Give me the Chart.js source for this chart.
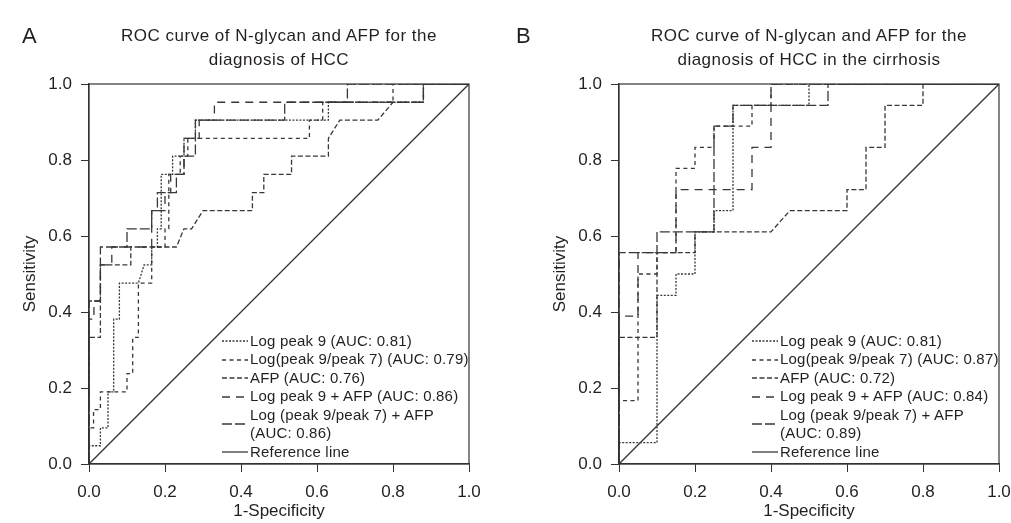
<!DOCTYPE html>
<html lang="en">
<head>
  <meta charset="UTF-8">
  <title>ROC curves of N-glycan and AFP</title>
  <script src="https://cdn.jsdelivr.net/npm/chart.js"></script>
  <style>
    body { margin: 0; background: #fff; font-family: "Liberation Sans", Arial, sans-serif; color: #231f20; }
    #wrap { position: relative; width: 1011px; height: 523px; overflow: hidden; }
    .panel { position: absolute; top: 0; height: 523px; }
    .panel canvas { position: absolute; left: 0; top: 0; }
    .letter { position: absolute; top: 25px; font-size: 22px; line-height: 22px; }
    .title { position: absolute; left: 89px; top: 23.5px; width: 380px; text-align: center; font-size: 17px; line-height: 24px; letter-spacing: 0.5px; white-space: nowrap; }
    .legend { position: absolute; left: 222px; top: 331.75px; font-size: 15px; line-height: 18.5px; letter-spacing: 0.2px; white-space: nowrap; }
    .legend .row { display: flex; align-items: center; }
    .legend svg { flex: none; margin-right: 2px; }
  </style>
</head>
<body>
<div id="wrap">
  <div class="panel" id="panelA" style="left:0; width:505px;">
    <canvas id="chartA" width="505" height="523"></canvas>
    <div class="title">ROC curve of N-glycan and AFP for the<br>diagnosis of HCC</div>
    <div class="legend" id="legendA"></div>
  </div>
  <div class="panel" id="panelB" style="left:530px; width:481px;">
    <canvas id="chartB" width="481" height="523"></canvas>
    <div class="title">ROC curve of N-glycan and AFP for the<br>diagnosis of HCC in the cirrhosis</div>
    <div class="legend" id="legendB"></div>
  </div>
  <div class="letter" style="left:22px;">A</div>
  <div class="letter" style="left:516px;">B</div>
</div>

<script>
  // axis ticks (both axes, both panels)
  const tickValues = [0, 0.2, 0.4, 0.6, 0.8, 1.0];

  // panel A - all HCC, points are [1-specificity, sensitivity]
  const aLogPeak9 = [[0,0],[0,0.048],[0.03,0.048],[0.03,0.095],[0.05,0.095],[0.05,0.19],[0.065,0.19],[0.065,0.381],[0.08,0.381],[0.08,0.476],[0.13,0.476],[0.145,0.524],[0.165,0.524],[0.165,0.571],[0.18,0.571],[0.18,0.619],[0.19,0.619],[0.19,0.762],[0.22,0.762],[0.22,0.81],[0.25,0.81],[0.25,0.857],[0.28,0.857],[0.28,0.905],[0.63,0.905],[0.63,0.952],[0.88,0.952],[0.88,1],[1,1]];
  const aLogRatio = [[0,0],[0,0.095],[0.012,0.095],[0.012,0.143],[0.03,0.143],[0.03,0.19],[0.1,0.19],[0.1,0.238],[0.115,0.238],[0.115,0.333],[0.13,0.333],[0.13,0.476],[0.165,0.476],[0.165,0.571],[0.2,0.571],[0.2,0.619],[0.21,0.619],[0.21,0.762],[0.24,0.762],[0.24,0.81],[0.26,0.81],[0.26,0.857],[0.58,0.857],[0.58,0.905],[0.615,0.905],[0.615,0.952],[0.8,0.952],[0.8,1],[1,1]];
  const aAfp = [[0,0],[0,0.333],[0.03,0.333],[0.03,0.524],[0.11,0.524],[0.11,0.571],[0.23,0.571],[0.25,0.619],[0.27,0.619],[0.3,0.667],[0.43,0.667],[0.43,0.714],[0.46,0.714],[0.46,0.762],[0.533,0.762],[0.533,0.81],[0.63,0.81],[0.63,0.857],[0.66,0.905],[0.76,0.905],[0.8,0.952],[0.88,0.952],[0.88,1],[1,1]];
  const aPeak9Afp = [[0,0],[0,0.381],[0.013,0.381],[0.013,0.429],[0.03,0.429],[0.03,0.524],[0.06,0.524],[0.06,0.571],[0.165,0.571],[0.165,0.667],[0.2,0.667],[0.2,0.714],[0.215,0.714],[0.215,0.762],[0.25,0.762],[0.25,0.857],[0.29,0.857],[0.29,0.905],[0.33,0.905],[0.33,0.952],[0.88,0.952],[0.88,1],[1,1]];
  const aRatioAfp = [[0,0],[0,0.429],[0.03,0.429],[0.03,0.571],[0.1,0.571],[0.1,0.619],[0.165,0.619],[0.165,0.667],[0.18,0.667],[0.18,0.714],[0.23,0.714],[0.23,0.762],[0.25,0.762],[0.25,0.81],[0.28,0.81],[0.28,0.905],[0.515,0.905],[0.515,0.952],[0.68,0.952],[0.68,1],[1,1]];

  // panel B - HCC in cirrhosis
  const bLogPeak9 = [[0,0],[0,0.056],[0.1,0.056],[0.1,0.444],[0.15,0.444],[0.15,0.5],[0.2,0.5],[0.2,0.611],[0.25,0.611],[0.25,0.667],[0.3,0.667],[0.3,0.944],[0.5,0.944],[0.5,1],[1,1]];
  const bLogRatio = [[0,0],[0,0.167],[0.05,0.167],[0.05,0.5],[0.1,0.5],[0.1,0.556],[0.15,0.556],[0.15,0.778],[0.2,0.778],[0.2,0.833],[0.25,0.833],[0.25,0.889],[0.35,0.889],[0.35,0.944],[0.4,0.944],[0.4,1],[1,1]];
  const bAfp = [[0,0],[0,0.333],[0.1,0.333],[0.1,0.556],[0.2,0.556],[0.2,0.611],[0.4,0.611],[0.45,0.667],[0.6,0.667],[0.6,0.722],[0.65,0.722],[0.65,0.833],[0.7,0.833],[0.7,0.944],[0.8,0.944],[0.8,1],[1,1]];
  const bPeak9Afp = [[0,0],[0,0.389],[0.05,0.389],[0.05,0.556],[0.15,0.556],[0.15,0.722],[0.35,0.722],[0.35,0.833],[0.4,0.833],[0.4,1],[1,1]];
  const bRatioAfp = [[0,0],[0,0.556],[0.1,0.556],[0.1,0.611],[0.25,0.611],[0.25,0.889],[0.3,0.889],[0.3,0.944],[0.55,0.944],[0.55,1],[1,1]];

  const refLine = [[0,0],[1,1]];

  const legendA = ['Log peak 9 (AUC: 0.81)', 'Log(peak 9/peak 7) (AUC: 0.79)', 'AFP (AUC: 0.76)', 'Log peak 9 + AFP (AUC: 0.86)', 'Log (peak 9/peak 7) + AFP<br>(AUC: 0.86)', 'Reference line'];
  const legendB = ['Log peak 9 (AUC: 0.81)', 'Log(peak 9/peak 7) (AUC: 0.87)', 'AFP (AUC: 0.72)', 'Log peak 9 + AFP (AUC: 0.84)', 'Log (peak 9/peak 7) + AFP<br>(AUC: 0.89)', 'Reference line'];

  // line styles in legend order
  const dashes = [[2, 1.5], [4, 3.5], [5, 2.5], [8, 6], [10, 3], []];
  const lineColor = '#383838';
  const textColor = '#231f20';

  Chart.defaults.font.family = '"Liberation Sans", Arial, sans-serif';
  Chart.defaults.color = textColor;

  // full box round the plot
  const frame = {
    id: 'frame',
    afterDatasetsDraw(chart) {
      const a = chart.chartArea, c = chart.ctx;
      c.save();
      c.strokeStyle = '#333';
      c.lineWidth = 1.2;
      c.strokeRect(a.left, a.top, a.right - a.left, a.bottom - a.top);
      c.restore();
    }
  };

  function drawPanel(id, series, width) {
    const ctx = document.getElementById(id).getContext('2d');
    return new Chart(ctx, {
      type: 'scatter',
      data: {
        datasets: series.map((s, i) => ({
          data: s.map(p => ({ x: p[0], y: p[1] })),
          showLine: true,
          pointRadius: 0,
          borderColor: i === 5 ? '#333' : lineColor,
          borderWidth: 1.3,
          borderDash: dashes[i],
          fill: false
        }))
      },
      options: {
        responsive: false,
        animation: false,
        layout: { padding: { top: 84, right: width - 469, left: 0, bottom: 0 } },
        plugins: { legend: { display: false }, tooltip: { enabled: false } },
        scales: {
          x: {
            type: 'linear', min: 0, max: 1,
            afterBuildTicks: s => { s.ticks = tickValues.map(v => ({ value: v })); },
            afterFit: s => { s.height = 59; s.paddingLeft = 0; s.paddingRight = 0; },
            ticks: { callback: v => v.toFixed(1), padding: 10, maxRotation: 0, font: { size: 17 }, color: textColor },
            grid: { drawOnChartArea: false, tickLength: 8, color: '#333' },
            border: { color: '#333', width: 1.2 },
            title: { display: true, text: '1-Specificity', font: { size: 17 }, color: textColor, padding: { top: 0, bottom: 1 } }
          },
          y: {
            type: 'linear', min: 0, max: 1,
            afterBuildTicks: s => { s.ticks = tickValues.map(v => ({ value: v })); },
            afterFit: s => { s.width = 89; s.paddingTop = 0; s.paddingBottom = 0; },
            ticks: { callback: v => v.toFixed(1), padding: 9, font: { size: 17 }, color: textColor },
            grid: { drawOnChartArea: false, tickLength: 8, color: '#333' },
            border: { color: '#333', width: 1.2 },
            title: { display: true, text: 'Sensitivity', font: { size: 17 }, color: textColor, padding: { top: 20, bottom: 0 } }
          }
        }
      },
      plugins: [frame]
    });
  }

  function buildLegend(id, labels) {
    const box = document.getElementById(id);
    labels.forEach((txt, i) => {
      const row = document.createElement('div');
      row.className = 'row';
      const dash = dashes[i].length ? dashes[i].join(',') : 'none';
      row.innerHTML =
        '<svg width="26" height="10"><line x1="0" y1="5" x2="26" y2="5" stroke="' + lineColor +
        '" stroke-width="1.3" stroke-dasharray="' + dash + '"/></svg><span>' + txt + '</span>';
      box.appendChild(row);
    });
  }

  drawPanel('chartA', [aLogPeak9, aLogRatio, aAfp, aPeak9Afp, aRatioAfp, refLine], 505);
  drawPanel('chartB', [bLogPeak9, bLogRatio, bAfp, bPeak9Afp, bRatioAfp, refLine], 481);
  buildLegend('legendA', legendA);
  buildLegend('legendB', legendB);
</script>
</body>
</html>
